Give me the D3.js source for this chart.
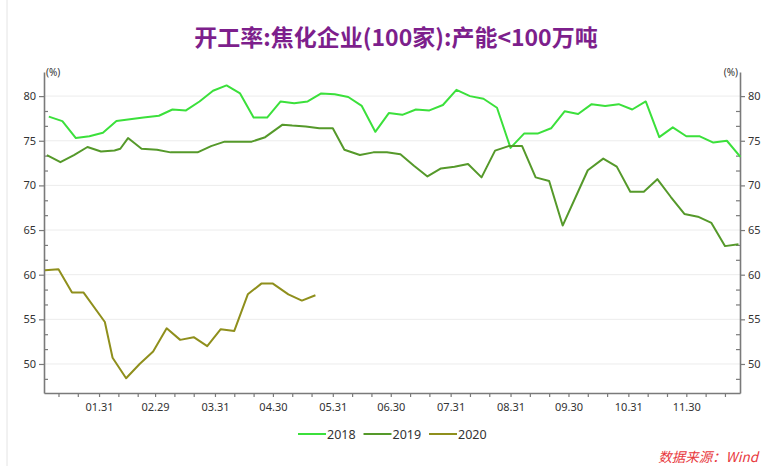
<!DOCTYPE html>
<html>
<head>
<meta charset="utf-8">
<script src="https://cdn.jsdelivr.net/npm/d3@7"></script>
<style>
  body { margin: 0; background: #fff; }
  svg { display: block; }
  .ax text { font-family: "Noto Sans", "Open Sans", sans-serif; font-size: 11px; fill: #333; }
</style>
</head>
<body>
<div id="chart"></div>
<script>
var width = 770,
    height = 466;

// weekly readings, month-day of each point
var dates2018 = ['01-05','01-12','01-19','01-26','02-02','02-09','02-16','02-23','03-02','03-09','03-16','03-23','03-30',
  '04-06','04-13','04-20','04-27','05-04','05-11','05-18','05-25','06-01','06-08','06-15','06-22','06-29',
  '07-06','07-13','07-20','07-27','08-03','08-10','08-17','08-24','08-31','09-07','09-14','09-21','09-28',
  '10-05','10-12','10-19','10-26','11-02','11-09','11-16','11-23','11-30','12-07','12-14','12-21','12-28'];
var values2018 = [77.7,77.2,75.3,75.5,75.9,77.2,77.4,77.6,77.8,78.5,78.4,79.4,80.6,
  81.2,80.3,77.6,77.6,79.4,79.2,79.4,80.3,80.2,79.9,78.9,76.0,78.1,
  77.9,78.5,78.4,79.0,80.7,80.0,79.7,78.7,74.2,75.8,75.8,76.4,78.3,
  78.0,79.1,78.9,79.1,78.5,79.4,75.4,76.5,75.5,75.5,74.8,75.0,73.2];

var dates2019 = ['01-04','01-11','01-18','01-25','02-01','02-08','02-11','02-15','02-22','03-01','03-08','03-15','03-22','03-29',
  '04-05','04-12','04-19','04-26','05-05','05-10','05-17','05-24','05-31','06-06','06-14','06-21','06-28',
  '07-05','07-12','07-19','07-26','08-02','08-09','08-16','08-23','08-30','09-06','09-13','09-20','09-27',
  '10-10','10-18','10-25','11-01','11-08','11-15','11-22','11-29','12-06','12-13','12-20','12-27'];
var values2019 = [73.4,72.6,73.4,74.3,73.8,73.9,74.1,75.3,74.1,74.0,73.7,73.7,73.7,74.4,
  74.9,74.9,74.9,75.4,76.8,76.7,76.6,76.4,76.4,74.0,73.4,73.7,73.7,
  73.5,72.2,71.0,71.9,72.1,72.4,70.9,73.9,74.4,74.4,70.9,70.5,65.5,
  71.7,73.0,72.1,69.3,69.3,70.7,68.7,66.8,66.5,65.8,63.2,63.4];

var dates2020 = ['01-03','01-10','01-17','01-23','02-03','02-07','02-14','02-21','02-28','03-06','03-13','03-20','03-27',
  '04-03','04-10','04-17','04-24','04-30','05-08','05-15','05-22'];
var values2020 = [60.5,60.6,58.0,58.0,54.7,50.7,48.4,50.0,51.4,54.0,52.7,53.0,52.0,
  53.9,53.7,57.8,59.0,59.0,57.8,57.1,57.7];

var seriesNames = ['2018', '2019', '2020'];
var seriesColors = ['#3be03b', '#55992a', '#8f8f1c'];
var yTicks = [50, 55, 60, 65, 70, 75, 80];
var xTickDates = ['01-31','02-29','03-31','04-30','05-31','06-30','07-31','08-31','09-30','10-31','11-30'];

var parse = d3.timeParse('%Y-%m-%d');
function toDate(md) { return parse('2020-' + md); }

var series = [
  dates2018.map(function(d, i) { return { date: toDate(d), v: values2018[i] }; }),
  dates2019.map(function(d, i) { return { date: toDate(d), v: values2019[i] }; }),
  dates2020.map(function(d, i) { return { date: toDate(d), v: values2020[i] }; })
];

var plotL = 44, plotR = 740, plotT = 72, plotB = 393;

var x = d3.scaleTime()
    .domain([new Date(2020, 0, 2, 12), new Date(2020, 11, 27, 19)])
    .range([plotL, plotR]);
var y = d3.scaleLinear()
    .domain([46.75, 82.7])
    .range([plotB, plotT]);

var svg = d3.select('#chart').append('svg')
    .attr('width', width)
    .attr('height', height);

svg.append('rect').attr('width', width).attr('height', height).attr('fill', '#fff');
svg.append('line')
    .attr('x1', 7).attr('x2', 7).attr('y1', 0).attr('y2', height)
    .attr('stroke', '#e4e4e4').attr('stroke-width', 1);

// title
svg.append('text')
    .attr('x', 396)
    .attr('y', 46)
    .attr('text-anchor', 'middle')
    .attr('font-family', '"Noto Sans CJK SC", sans-serif')
    .attr('font-weight', 'bold')
    .attr('font-size', 23)
    .attr('fill', '#7d1f8c')
    .text('开工率:焦化企业(100家):产能<100万吨');

// grid
svg.append('g').selectAll('line')
    .data(yTicks)
  .enter().append('line')
    .attr('x1', plotL).attr('x2', plotR)
    .attr('y1', function(d) { return y(d); })
    .attr('y2', function(d) { return y(d); })
    .attr('stroke', '#ececec')
    .attr('stroke-width', 1);

var minorY = d3.range(1, 22).map(function(i) { return 45 + i * 5 / 3; })
    .filter(function(v) { return v > 46.8 && v < 82.6 && Math.abs(v / 5 - Math.round(v / 5)) > 0.01; });

// left axis
var gl = svg.append('g').attr('class', 'ax').attr('transform', 'translate(' + plotL + ',0)');
gl.call(d3.axisLeft(y).tickValues(yTicks).tickSize(5).tickPadding(3).tickSizeOuter(0));
gl.append('g').attr('class', 'minor').call(d3.axisRight(y).tickValues(minorY).tickSize(4).tickFormat(''));
// right axis
var gr = svg.append('g').attr('class', 'ax').attr('transform', 'translate(' + plotR + ',0)');
gr.call(d3.axisRight(y).tickValues(yTicks).tickSize(5).tickPadding(3).tickSizeOuter(0));
gr.append('g').attr('class', 'minor').call(d3.axisLeft(y).tickValues(minorY).tickSize(4).tickFormat(''));
// bottom axis
var minorX = [];
for (var m = 0; m < 12; m++) { minorX.push(new Date(2020, m, 10)); minorX.push(new Date(2020, m, 20)); }
var gb = svg.append('g').attr('class', 'ax').attr('transform', 'translate(0,' + plotB + ')');
gb.call(d3.axisBottom(x).tickValues(xTickDates.map(toDate)).tickFormat(d3.timeFormat('%m.%d'))
    .tickSize(4).tickPadding(6).tickSizeOuter(0));
gb.append('g').attr('class', 'minor').call(d3.axisBottom(x)
    .tickValues(minorX.filter(function(d) { return x(d) > plotL && x(d) < plotR; }))
    .tickSize(4).tickFormat(''));

svg.selectAll('.minor .domain').remove();
svg.selectAll('.ax .domain').attr('stroke', '#7a7a7a').attr('stroke-width', 1.6);
svg.selectAll('.ax .tick line').attr('stroke', '#7a7a7a').attr('stroke-width', 1.2);

// unit labels
svg.append('text').attr('x', 46).attr('y', 76).attr('font-family', '"Noto Sans", sans-serif')
    .attr('font-size', 10).attr('fill', '#333').text('(%)');
svg.append('text').attr('x', 738).attr('y', 76).attr('text-anchor', 'end').attr('font-family', '"Noto Sans", sans-serif')
    .attr('font-size', 10).attr('fill', '#333').text('(%)');

// lines
var line = d3.line()
    .x(function(d) { return x(d.date); })
    .y(function(d) { return y(d.v); });

svg.append('g').selectAll('path')
    .data(series)
  .enter().append('path')
    .attr('d', line)
    .attr('fill', 'none')
    .attr('stroke', function(d, i) { return seriesColors[i]; })
    .attr('stroke-width', 2)
    .attr('stroke-linejoin', 'round');

// legend
var legend = svg.append('g').attr('transform', 'translate(298,434)');
var item = legend.selectAll('g')
    .data(seriesNames)
  .enter().append('g')
    .attr('transform', function(d, i) { return 'translate(' + (i * 65.5) + ',0)'; });
item.append('line')
    .attr('x1', 0).attr('x2', 28).attr('y1', 0).attr('y2', 0)
    .attr('stroke', function(d, i) { return seriesColors[i]; })
    .attr('stroke-width', 2);
item.append('text')
    .attr('x', 29).attr('y', 4.5)
    .attr('font-family', '"Noto Sans", sans-serif')
    .attr('font-size', 12.5)
    .attr('fill', '#333')
    .text(function(d) { return d; });

// source
svg.append('text')
    .attr('x', 758).attr('y', 462)
    .attr('text-anchor', 'end')
    .attr('font-family', '"Noto Sans CJK SC", sans-serif')
    .attr('font-style', 'italic')
    .attr('font-size', 13.5)
    .attr('fill', '#e8383d')
    .text('数据来源：Wind');
</script>
</body>
</html>
